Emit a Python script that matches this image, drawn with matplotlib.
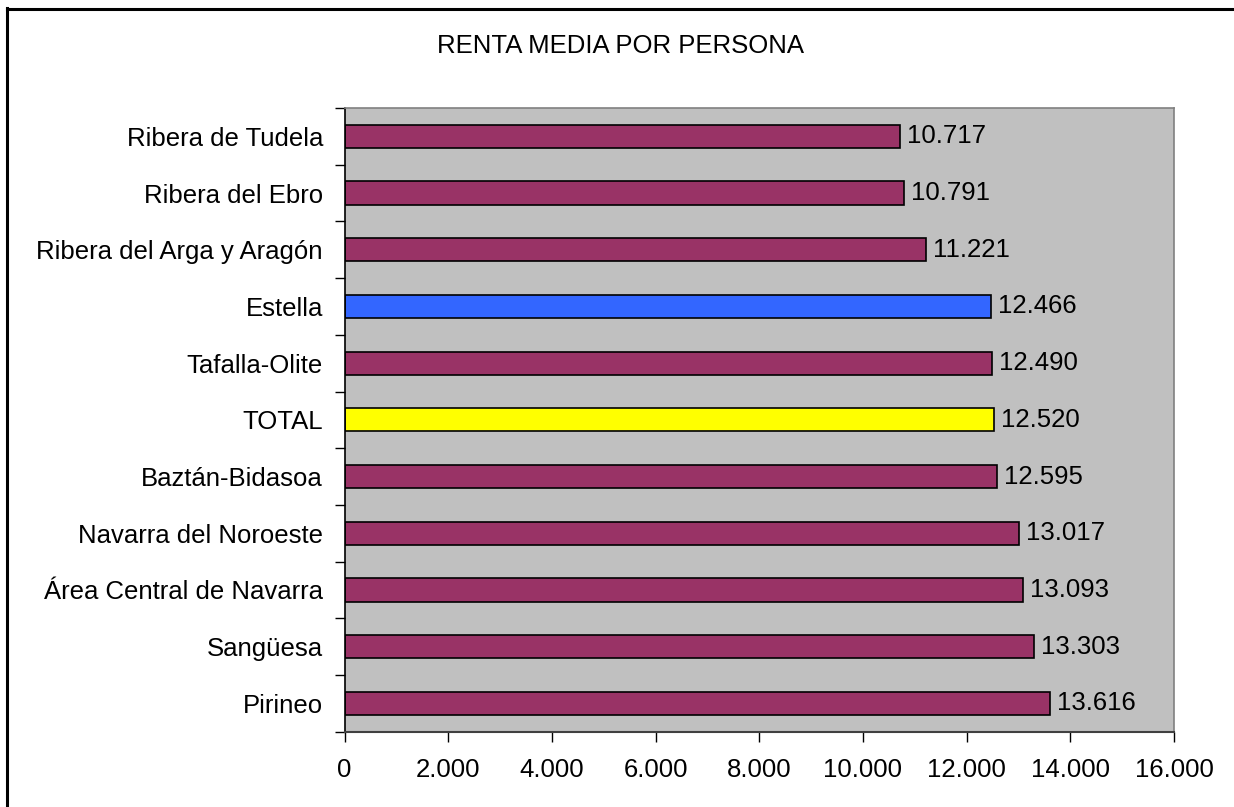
import matplotlib
matplotlib.use("Agg")
import matplotlib.pyplot as plt
from matplotlib.ticker import FuncFormatter
from matplotlib.lines import Line2D

plt.rcParams['font.family'] = ['Liberation Sans', 'DejaVu Sans']

title = "RENTA MEDIA POR PERSONA"
categories = ["Ribera de Tudela", "Ribera del Ebro", "Ribera del Arga y Aragón",
              "Estella", "Tafalla-Olite", "TOTAL", "Baztán-Bidasoa",
              "Navarra del Noroeste", "Área Central de Navarra", "Sangüesa", "Pirineo"]
values = [10717, 10791, 11221, 12466, 12490, 12520, 12595, 13017, 13093, 13303, 13616]
bar_colors = ["#993366", "#993366", "#993366", "#3366FF", "#993366", "#FFFF00",
              "#993366", "#993366", "#993366", "#993366", "#993366"]
xticks = [0, 2000, 4000, 6000, 8000, 10000, 12000, 14000, 16000]

FS = 18.5

def fmt(v):
    return f"{int(v):,}".replace(",", ".")

fig = plt.figure(figsize=(12.34, 8.07), dpi=100)
ax = fig.add_axes([344.5/1234, 1-731.7/807, (1174-344.5)/1234, (731.7-108)/807])
ax.set_facecolor("#C0C0C0")

n = len(categories)
ypos = list(range(n))
ax.barh(ypos, values, height=0.41, color=bar_colors, edgecolor="black", linewidth=1.2)
ax.set_ylim(n - 0.5, -0.5)
ax.set_xlim(0, 16000)

for y, v in zip(ypos, values):
    ax.annotate(fmt(v), (v, y), xytext=(5, 0), textcoords="offset points",
                va="center", ha="left", fontsize=FS)

ax.set_xticks(xticks)
ax.xaxis.set_major_formatter(FuncFormatter(lambda v, p: fmt(v)))
ax.set_yticks(ypos)
ax.set_yticklabels(categories)
ax.tick_params(axis="y", which="major", length=0, pad=15.5, labelsize=FS)
ax.set_yticks([i - 0.5 for i in range(n + 1)], minor=True)
ax.tick_params(axis="y", which="minor", length=7, width=1, color="black", direction="out")
ax.tick_params(axis="x", length=7, width=1, color="black", direction="out", pad=12, labelsize=FS)

for s in ["top", "right"]:
    ax.spines[s].set_color("#808080")
    ax.spines[s].set_linewidth(1.2)
ax.spines["left"].set_color("black")
ax.spines["left"].set_linewidth(1.2)
ax.spines["bottom"].set_color("#404040")
ax.spines["bottom"].set_linewidth(1.5)

fig.text(620.5/1234, 1-46/807, title, ha="center", va="center", fontsize=FS)

# figure frame (top and left visible)
fig.add_artist(Line2D([7/1234, 7/1234], [0, 1-8/807], transform=fig.transFigure, color="black", linewidth=2.2))
fig.add_artist(Line2D([7/1234, 1], [1-9/807, 1-9/807], transform=fig.transFigure, color="black", linewidth=2.2))

fig.savefig("out.png", dpi=100)
